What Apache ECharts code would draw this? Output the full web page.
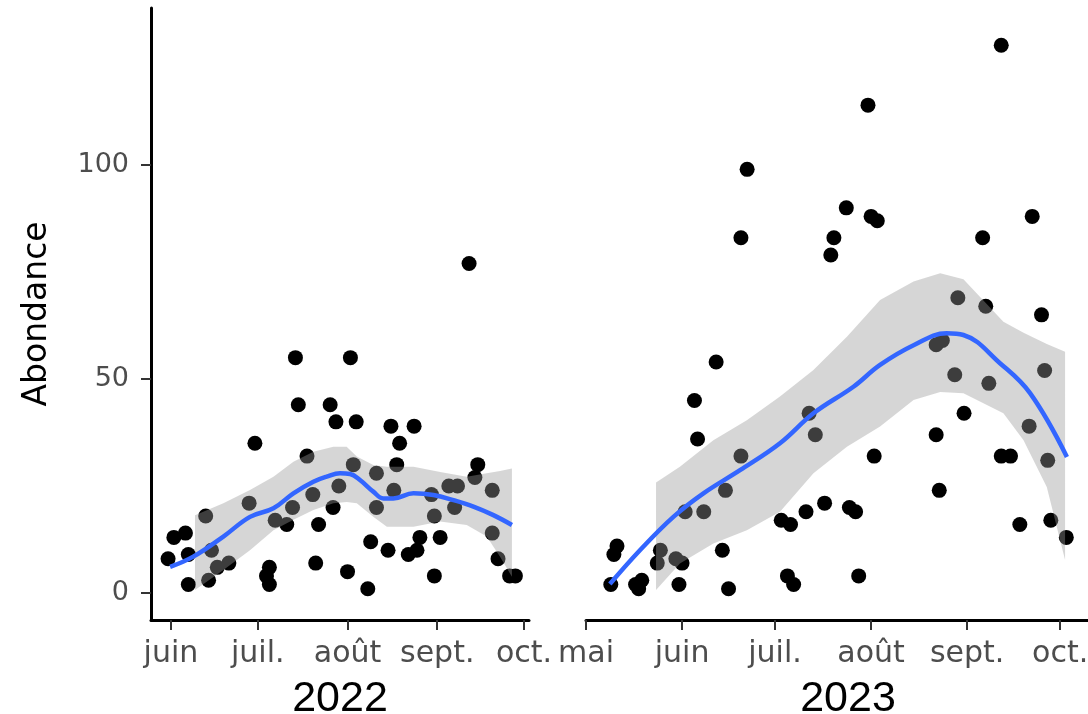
<!DOCTYPE html>
<html>
<head>
<meta charset="utf-8">
<script src="https://cdn.jsdelivr.net/npm/echarts@6/dist/echarts.min.js"></script>
<style>
html,body{margin:0;padding:0;background:#fff;}
#main{width:1088px;height:714px;}
</style>
</head>
<body>
<div id="main"></div>
<script>
// axe x = jour de l'annee (1 = 1er janvier)
var debutsMois = [121, 152, 182, 213, 244, 274];
var nomsMois = ['mai', 'juin', 'juil.', 'août', 'sept.', 'oct.'];
var mois2022 = [152, 182, 213, 244, 274];
var mois2023 = [121, 152, 182, 213, 244, 274];
var ticksY = [0, 50, 100];

// releves 2022
var jour2022 = [195,214,196,207,209,216,228,236,231,181,230,258,199,215,223,257,210,229,248,251,
                263,201,242,179,194,208,223,250,164,243,188,192,203,263,153,157,221,238,245,158,
                166,227,234,237,151,265,168,172,202,186,185,186,213,269,271,243,165,158,220,255];
var abond2022 = [55,55,44,44,40,40,39,39,35,35,30,30,32,30,28,27,25,24,25,25,
                 24,23,23,21,20,20,20,20,18,18,17,16,16,14,13,14,12,13,13,9,
                 10,10,9,10,8,8,6,7,7,6,4,2,5,4,4,4,3,2,1,77];

// releves 2023
var jour2023 = [255,212,173,205,213,215,265,171,201,249,200,241,250,268,234,236,240,251,269,163,
                156,157,193,195,243,234,264,171,214,255,258,270,166,235,153,159,184,187,192,198,
                206,208,261,271,276,131,130,145,150,152,144,165,129,137,138,139,151,167,186,188,209];
var abond2023 = [128,114,99,90,88,87,88,83,83,83,79,69,67,65,58,59,51,49,52,54,
                 45,36,42,37,42,37,39,32,32,32,32,31,24,24,19,19,17,16,19,21,
                 20,19,16,17,13,11,9,10,8,7,7,10,2,2,1,3,2,1,4,2,4];

// lissage loess 2022 + intervalle de confiance
var lisseJour2022 = [151.7,159.7,170.1,179.3,187.4,194.3,201.2,205.8,210.4,213.9,217.3,221.9,225.4,228.8,235.8,242.7,249.6,256.5,263.4,269.8];
var lisseVal2022 = [6.1,8.5,13.2,17.8,19.8,23.3,26.0,27.2,28.0,27.8,26.4,23.7,22.1,22.1,23.3,22.9,21.7,20.2,18.2,15.9];
var icJour2022 = [160.3,170.1,179.3,187.4,194.3,201.2,208.1,212.7,216.2,221.9,226.6,235.8,245.0,254.2,261.1,265.7,269.8];
var icHaut2022 = [18.2,21.0,24.1,27.2,30.7,33.0,34.2,34.2,31.9,29.9,29.5,29.5,28.3,27.2,28.0,28.5,29.1];
var icBas2022 = [0.7,5.4,10.0,14.7,17.1,19.4,21.0,21.3,21.0,17.8,15.5,15.5,16.7,15.9,13.2,8.5,3.8];

// lissage loess 2023 + intervalle de confiance
var lisseJour2023 = [128.7,138.4,149.2,158.9,170.7,183.6,194.4,207.3,215.9,226.7,237.4,242.8,254.6,264.3,276.2];
var lisseVal2023 = [2.1,10.0,17.8,23.3,28.7,35.0,42.0,48.2,53.3,57.9,60.7,60.3,53.7,46.7,31.8];
var icJour2023 = [143.6,151.3,162.1,172.9,183.6,194.4,205.2,215.9,226.7,235.3,242.8,255.7,262.2,269.7,275.6];
var icHaut2023 = [25.8,29.5,35.7,40.4,45.9,52.1,59.9,68.5,72.8,74.7,73.3,63.4,60.8,58.2,56.4];
var icBas2023 = [0.7,6.9,11.6,14.7,19.0,28.0,34.2,38.9,45.1,47.0,46.7,42.0,35.7,24.8,7.7];

function paires(xs, ys){
	var out = [];
	for (var i = 0; i < xs.length; i++) {
		out.push([xs[i], ys[i]]);
	}
	return out;
}

// ruban gris de l'intervalle de confiance (polygone haut puis bas)
function bande(jours, bas, haut){
	return function(params, api){
		var pts = [];
		for (var i = 0; i < jours.length; i++) pts.push(api.coord([jours[i], haut[i]]));
		for (var j = jours.length - 1; j >= 0; j--) pts.push(api.coord([jours[j], bas[j]]));
		return {
			type: 'polygon',
			shape: {points: pts},
			style: {fill: 'rgba(153,153,153,0.4)'}
		};
	};
}

function nomMois(v){
	var k = debutsMois.indexOf(Math.round(v));
	return k >= 0 ? nomsMois[k] : '';
}

function axeX(grid, min, max, ticks, annee, decalage){
	return {
		type: 'value',
		gridIndex: grid,
		min: min,
		max: max,
		splitLine: {show: false},
		axisLine: {onZero: false, lineStyle: {color: '#000', width: 3}},
		axisTick: {customValues: ticks, length: 10, lineStyle: {color: '#333', width: 2}},
		axisLabel: {
			customValues: ticks,
			formatter: nomMois,
			showMinLabel: true,
			showMaxLabel: true,
			margin: 19,
			fontFamily: 'DejaVu Sans',
			fontSize: 30,
			color: '#4D4D4D'
		},
		name: annee,
		nameLocation: 'middle',
		nameGap: 58,
		nameTextStyle: {fontFamily: 'Liberation Sans', fontSize: 43, color: '#000', padding: [0, 0, 0, decalage]}
	};
}

var chart = echarts.init(document.getElementById('main'));

var option = {
	backgroundColor: '#ffffff',
	animation: false,
	grid: [
		{left: 151, top: 8, width: 378, height: 612, outerBoundsMode: 'none'},
		{left: 586, top: 8, width: 502, height: 612, outerBoundsMode: 'none'}
	],
	xAxis: [
		axeX(0, 145.1, 275.7, mois2022, '2022', 0),
		axeX(1, 121, 283, mois2023, '2023', 22)
	],
	yAxis: [
		{
			type: 'value',
			gridIndex: 0,
			min: -6.3,
			max: 136.7,
			splitLine: {show: false},
			axisLine: {show: true, onZero: false, lineStyle: {color: '#000', width: 3}},
			axisTick: {show: true, customValues: ticksY, length: 10, lineStyle: {color: '#333', width: 2}},
			axisLabel: {customValues: ticksY, margin: 22, fontFamily: 'DejaVu Sans', fontSize: 27, color: '#4D4D4D'},
			name: 'Abondance',
			nameLocation: 'middle',
			nameGap: 97,
			nameTextStyle: {fontFamily: 'DejaVu Sans', fontSize: 33, color: '#000'}
		},
		{
			type: 'value',
			gridIndex: 1,
			min: -6.3,
			max: 136.7,
			show: false
		}
	],
	series: [
		{
			type: 'scatter', xAxisIndex: 0, yAxisIndex: 0, z: 2,
			symbolSize: 15, itemStyle: {color: '#000', opacity: 1},
			data: paires(jour2022, abond2022)
		},
		{
			type: 'custom', xAxisIndex: 0, yAxisIndex: 0, z: 3, silent: true,
			renderItem: bande(icJour2022, icBas2022, icHaut2022),
			data: [[icJour2022[0], icHaut2022[0]]]
		},
		{
			type: 'line', xAxisIndex: 0, yAxisIndex: 0, z: 4,
			smooth: 0.4, showSymbol: false,
			lineStyle: {color: '#3366FF', width: 4.5},
			data: paires(lisseJour2022, lisseVal2022)
		},
		{
			type: 'scatter', xAxisIndex: 1, yAxisIndex: 1, z: 2,
			symbolSize: 15, itemStyle: {color: '#000', opacity: 1},
			data: paires(jour2023, abond2023)
		},
		{
			type: 'custom', xAxisIndex: 1, yAxisIndex: 1, z: 3, silent: true,
			renderItem: bande(icJour2023, icBas2023, icHaut2023),
			data: [[icJour2023[0], icHaut2023[0]]]
		},
		{
			type: 'line', xAxisIndex: 1, yAxisIndex: 1, z: 4,
			smooth: 0.4, showSymbol: false,
			lineStyle: {color: '#3366FF', width: 4.5},
			data: paires(lisseJour2023, lisseVal2023)
		}
	]
};

chart.setOption(option);
</script>
</body>
</html>
